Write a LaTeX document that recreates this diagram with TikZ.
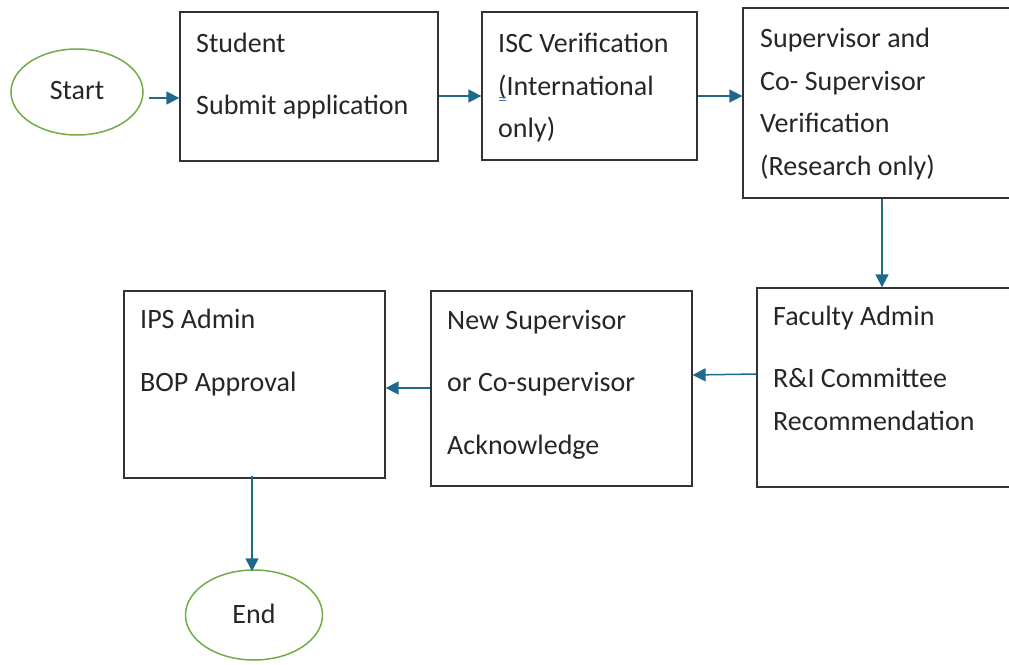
\documentclass[tikz,border=0pt]{standalone}
\usepackage{fontspec}
\setmainfont{Carlito}
\usetikzlibrary{arrows.meta,shapes.geometric}
\definecolor{flowblue}{HTML}{1F6A8C}
\definecolor{boxline}{HTML}{333333}
\definecolor{termgreen}{HTML}{70AD47}
\definecolor{spellblue}{HTML}{4472C4}
\tikzset{
  stepbox/.style={draw=boxline, line width=1.3pt, rectangle, inner sep=0pt},
  term/.style={draw=termgreen, line width=1.5pt, ellipse, inner sep=0pt},
  lbl/.style={anchor=base west, inner sep=0pt, text=black!85},
  ctr/.style={inner sep=0pt, text=black!85},
  arr/.style={draw=flowblue, line width=1.5pt, -{Triangle[length=13pt,width=13pt]}},
}
\begin{document}
\begin{tikzpicture}[x=1pt,y=-1pt,font=\fontsize{28}{34}\selectfont]
\useasboundingbox (0,0) rectangle (1009,664);
\clip (0,0) rectangle (1009,664);

% terminals
\node[term, minimum width=132pt, minimum height=86pt] (start) at (77,92) {};
\node[ctr] (startT) at (77,91) {Start};
\node[term, minimum width=137pt, minimum height=90pt] (end) at (254,615) {};
\node[ctr] (endT) at (254,614) {End};

% process boxes
\node[stepbox, minimum width=258pt, minimum height=149pt] (stu) at (309,86.5) {};
\node[stepbox, minimum width=215pt, minimum height=148pt] (isc) at (589.5,86) {};
\node[stepbox, minimum width=268pt, minimum height=190pt] (sup) at (877,103) {};
\node[stepbox, minimum width=254pt, minimum height=199pt] (fac) at (884,387.5) {};
\node[stepbox, minimum width=261pt, minimum height=195pt] (nsv) at (561.5,388.5) {};
\node[stepbox, minimum width=261pt, minimum height=187pt] (ips) at (254.5,384.5) {};

% box texts
\node[lbl] (stu1) at (196,52) {Student};
\node[lbl] (stu2) at (196,114) {Submit application};

\node[lbl] (isc1) at (498,52) {ISC Verification};
\node[lbl] (isc2) at (498,95) {(International};
\node[lbl] (isc3) at (498,137) {only)};
\draw[spellblue, line width=0.7pt] (499,97.5) -- (506,97.5) (499,100) -- (506,100);

\node[lbl] (sup1) at (760,47) {Supervisor and};
\node[lbl] (sup2) at (760,90) {Co- Supervisor};
\node[lbl] (sup3) at (760,132) {Verification};
\node[lbl] (sup4) at (760,175) {(Research only)};

\node[lbl] (fac1) at (773,325) {Faculty Admin};
\node[lbl] (fac2) at (773,387) {R\&I Committee};
\node[lbl] (fac3) at (773,430) {Recommendation};

\node[lbl] (nsv1) at (447,329) {New Supervisor};
\node[lbl] (nsv2) at (447,391) {or Co-supervisor};
\node[lbl] (nsv3) at (447,454) {Acknowledge};

\node[lbl] (ips1) at (140,328) {IPS Admin};
\node[lbl] (ips2) at (140,391) {BOP Approval};

% connectors
\draw[arr] ([shift={(5,6)}]start.east) -- (stu.west |- 0,98);
\draw[arr] (stu.east |- 0,96) -- (isc.west |- 0,96);
\draw[arr] (isc.east |- 0,96) -- (sup.west |- 0,96);
\draw[arr] (sup.south -| 882,0) -- (fac.north -| 882,0);
\draw[arr] (fac.west |- 0,374) -- (nsv.east |- 0,375);
\draw[arr] (nsv.west |- 0,388) -- (ips.east |- 0,388);
\draw[arr] ([yshift=3]ips.south -| 252,0) -- ([yshift=-2]end.north -| 252,0);
\end{tikzpicture}
\end{document}
